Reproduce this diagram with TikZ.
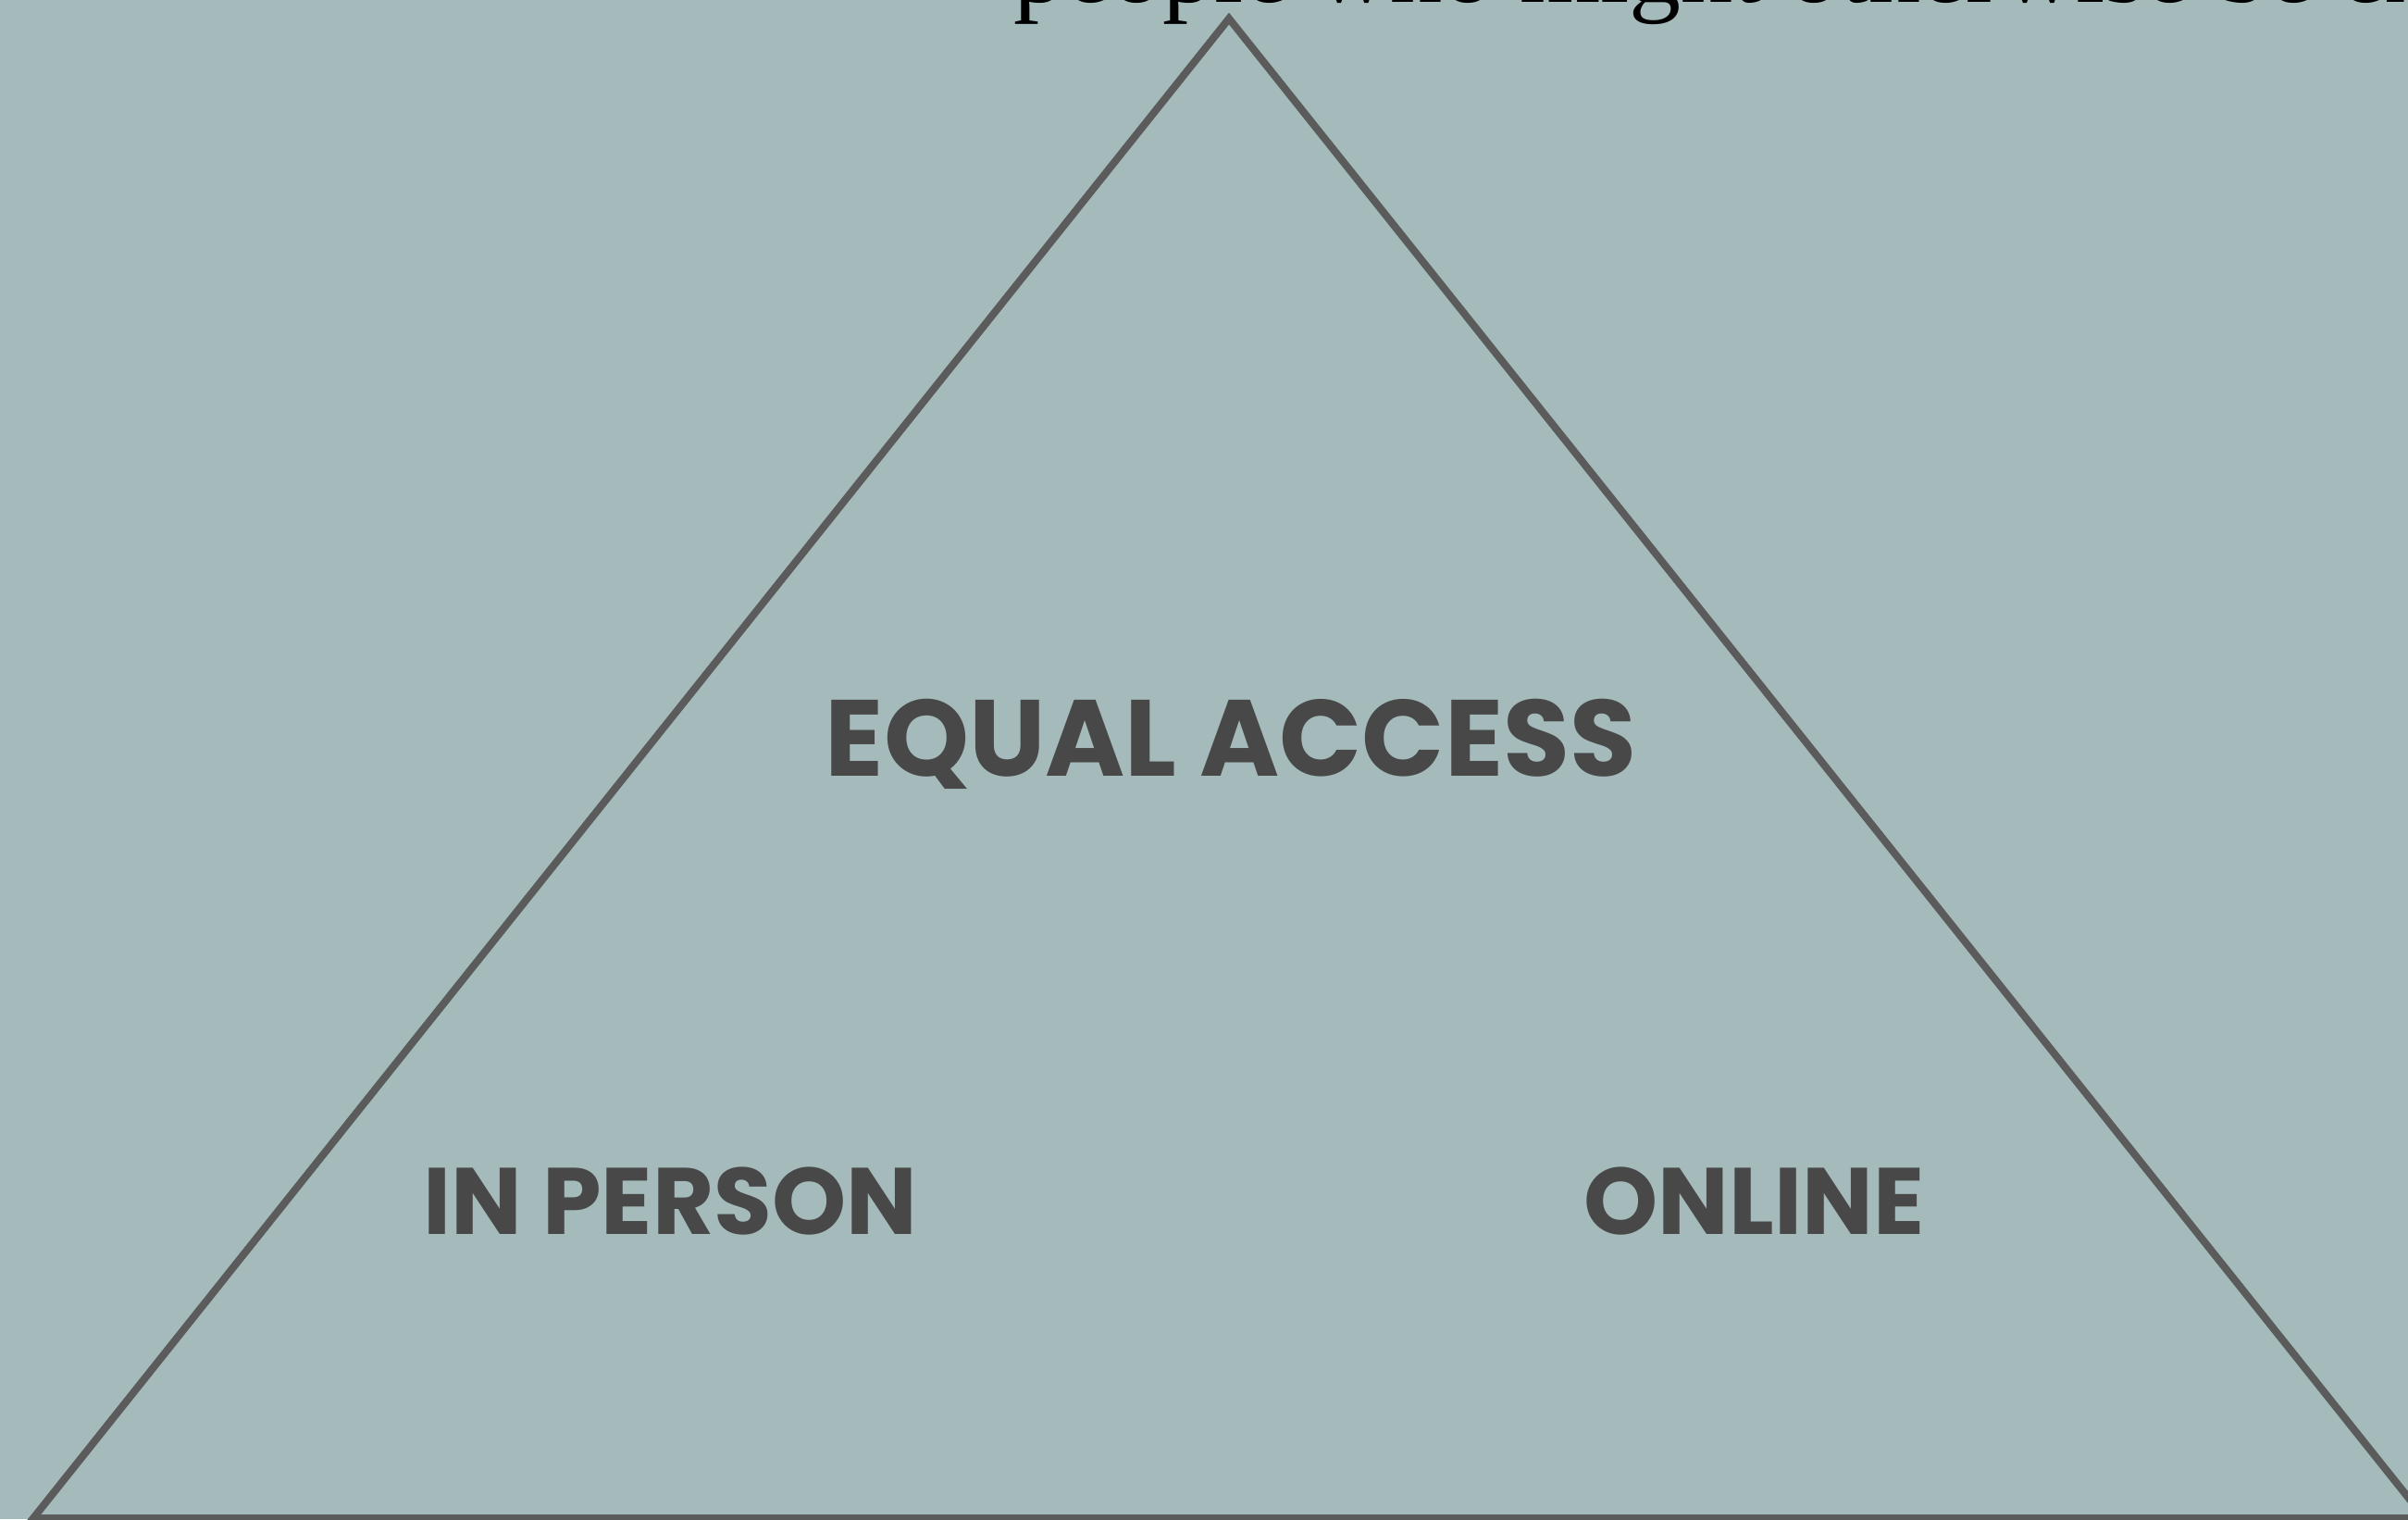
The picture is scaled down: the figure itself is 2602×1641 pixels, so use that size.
\documentclass[tikz,border=0pt]{standalone}
\usepackage{fontspec}
\setmainfont{Liberation Serif}
\newfontfamily\labelfont{Poppins}
\definecolor{bgcol}{RGB}{165,186,186}
\definecolor{edgecol}{RGB}{91,91,91}
\definecolor{txtcol}{RGB}{72,72,72}
\tikzset{
  lbl/.style={font=\labelfont\bfseries\fontsize{#1}{#1}\selectfont, text=txtcol, inner sep=0pt, anchor=base},
  edge/.style={draw=edgecol, line width=8pt, line join=miter},
}
\begin{document}
\begin{tikzpicture}[x=1pt,y=-1pt]
\fill[bgcol] (0,0) rectangle (2602,1641);
\useasboundingbox (0,0) rectangle (2602,1641);
\clip (0,0) rectangle (2602,1641);
\coordinate (apex) at (1328,20);
\coordinate (bl) at (36,1640);
\coordinate (br) at (2620,1640);
\draw[edge] (apex) -- (bl) -- (br) -- cycle;
\node[anchor=base west, inner sep=0pt, font=\fontsize{112}{112}\selectfont] (top) at (1095,2) {people who might otherwise be excluded};
\node[lbl=117] (eq) at (1330,838) {EQUAL ACCESS};
\node[lbl=102] (ip) at (724.5,1333) {IN PERSON};
\node[lbl=102] (on) at (1895.5,1333) {ONLINE};
\end{tikzpicture}
\end{document}
